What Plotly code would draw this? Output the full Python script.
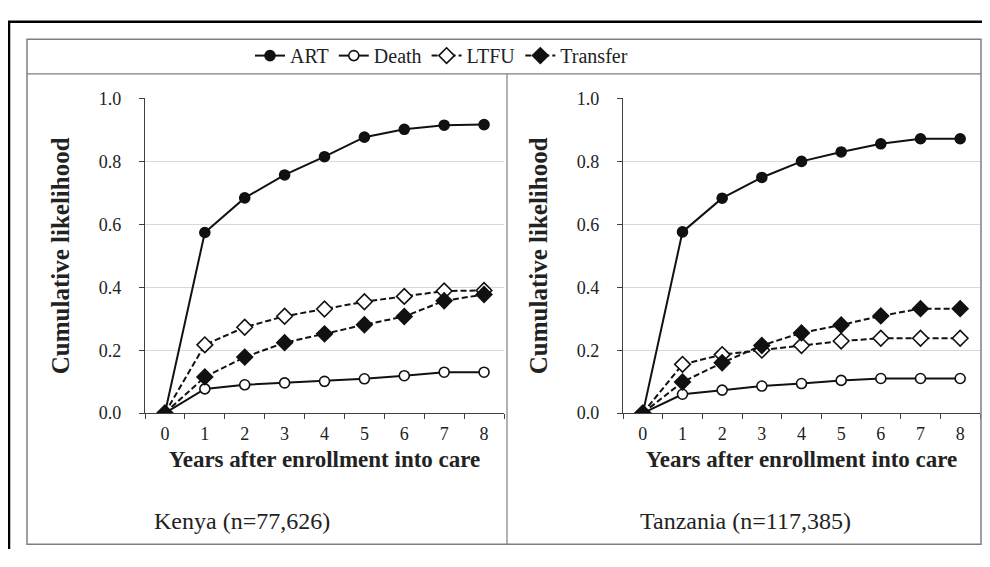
import plotly.graph_objects as go

years = ["0", "1", "2", "3", "4", "5", "6", "7", "8"]
y_ticks = [0.0, 0.2, 0.4, 0.6, 0.8, 1.0]

kenya_art = [0.0, 0.574, 0.684, 0.757, 0.815, 0.877, 0.902, 0.915, 0.917]
kenya_death = [0.0, 0.077, 0.090, 0.096, 0.101, 0.109, 0.119, 0.130, 0.130]
kenya_ltfu = [0.0, 0.217, 0.273, 0.308, 0.331, 0.354, 0.371, 0.388, 0.390]
kenya_transfer = [0.0, 0.115, 0.178, 0.224, 0.252, 0.281, 0.307, 0.357, 0.377]

tanz_art = [0.0, 0.576, 0.683, 0.749, 0.800, 0.830, 0.856, 0.872, 0.872]
tanz_death = [0.0, 0.060, 0.073, 0.086, 0.094, 0.104, 0.110, 0.110, 0.110]
tanz_ltfu = [0.0, 0.155, 0.186, 0.200, 0.215, 0.229, 0.238, 0.238, 0.238]
tanz_transfer = [0.0, 0.099, 0.160, 0.215, 0.255, 0.280, 0.309, 0.332, 0.332]

panel_labels = ["Kenya (n=77,626)", "Tanzania (n=117,385)"]
series_names = ["ART", "Death", "LTFU", "Transfer"]

# the page body has an 8px margin; keep the figure inside the window
OFF = 8
W, H = 990 - 2 * OFF, 567 - 2 * OFF
FONT = "Liberation Serif, Times New Roman, serif"
INK = "#111111"
AXC = "#404040"
TXT = "#222222"

def px_x(p):
    return (p - OFF) / W

def px_y(p):
    return 1 - (p - OFF) / H

styles = {
    "ART": dict(dash="solid", symbol="circle", fill=INK, size=10),
    "Death": dict(dash="solid", symbol="circle", fill="white", size=10),
    "LTFU": dict(dash="6px,3px", symbol="diamond", fill="white", size=12),
    "Transfer": dict(dash="6px,3px", symbol="diamond", fill=INK, size=12),
}

fig = go.Figure()
panels = [
    ("x", "y", [kenya_art, kenya_death, kenya_ltfu, kenya_transfer], True),
    ("x2", "y2", [tanz_art, tanz_death, tanz_ltfu, tanz_transfer], False),
]
for xa, ya, data, show in panels:
    for name, vals in zip(series_names, data):
        st = styles[name]
        fig.add_trace(go.Scatter(
            x=years, y=vals, name=name, xaxis=xa, yaxis=ya,
            mode="lines+markers", showlegend=show, legendgroup=name,
            line=dict(color=INK, width=2, dash=st["dash"]),
            marker=dict(symbol=st["symbol"], size=st["size"], color=st["fill"],
                        line=dict(color=INK, width=1.6)),
        ))

ydom = [px_y(418), px_y(91.5)]
xdoms = [[px_x(145), px_x(504)], [px_x(623), px_x(980)]]

xcommon = dict(type="category", range=[-0.5, 8.5], tickson="boundaries",
               ticks="outside", ticklen=5, tickcolor=AXC, tickwidth=1.2,
               showline=True, linecolor=AXC, linewidth=1.3, showgrid=False,
               zeroline=False, ticklabelstandoff=4,
               tickfont=dict(family=FONT, size=18, color=TXT),
               title=dict(text="<b>Years after enrollment into care</b>",
                          font=dict(family=FONT, size=23, color=TXT),
                          standoff=8))
ycommon = dict(range=[0, 1], tickvals=y_ticks, tickformat=".1f",
               ticks="outside", ticklen=5, tickcolor=AXC, tickwidth=1.2,
               showline=True, linecolor=AXC, linewidth=1.3,
               showgrid=True, gridcolor="#d9d9d9", gridwidth=1,
               zeroline=False, ticklabelstandoff=14,
               tickfont=dict(family=FONT, size=18, color=TXT),
               title=dict(text="<b>Cumulative likelihood</b>",
                          font=dict(family=FONT, size=25, color=TXT),
                          standoff=21))

fig.update_layout(
    width=W, height=H, autosize=False,
    margin=dict(l=0, r=0, t=0, b=0),
    paper_bgcolor="white", plot_bgcolor="white",
    font=dict(family=FONT, color=TXT),
    xaxis=dict(domain=xdoms[0], anchor="y", **xcommon),
    yaxis=dict(domain=ydom, anchor="x", **ycommon),
    xaxis2=dict(domain=xdoms[1], anchor="y2", **xcommon),
    yaxis2=dict(domain=ydom, anchor="x2", **ycommon),
    legend=dict(orientation="h", x=px_x(250), xanchor="left",
                y=px_y(47), yanchor="middle",
                font=dict(family=FONT, size=20, color=TXT),
                itemwidth=30, bgcolor="rgba(0,0,0,0)"),
)

shapes = [
    # outer frame (thick, left and top only)
    dict(type="path",
         path=f"M {px_x(9)},0 L {px_x(9)},{px_y(12)} L 1,{px_y(12)}",
         xref="paper", yref="paper", line=dict(color="black", width=2.5)),
    # inner table box
    dict(type="rect", x0=px_x(27), x1=px_x(981), y0=px_y(554), y1=px_y(30),
         xref="paper", yref="paper", line=dict(color="#7f7f7f", width=1.5)),
    # row separator under legend
    dict(type="line", x0=px_x(27), x1=px_x(981), y0=px_y(66), y1=px_y(66),
         xref="paper", yref="paper", line=dict(color="#7f7f7f", width=1.2)),
    # column divider
    dict(type="line", x0=px_x(507), x1=px_x(507), y0=px_y(554), y1=px_y(66),
         xref="paper", yref="paper", line=dict(color="#7f7f7f", width=1.2)),
]
fig.update_layout(shapes=shapes)

for label, cx in zip(panel_labels, [242, 745]):
    fig.add_annotation(text=label, x=px_x(cx), y=px_y(530), xref="paper", yref="paper",
                       showarrow=False, xanchor="center", yanchor="middle",
                       font=dict(family=FONT, size=24, color=TXT))

fig.write_html("out.html")
